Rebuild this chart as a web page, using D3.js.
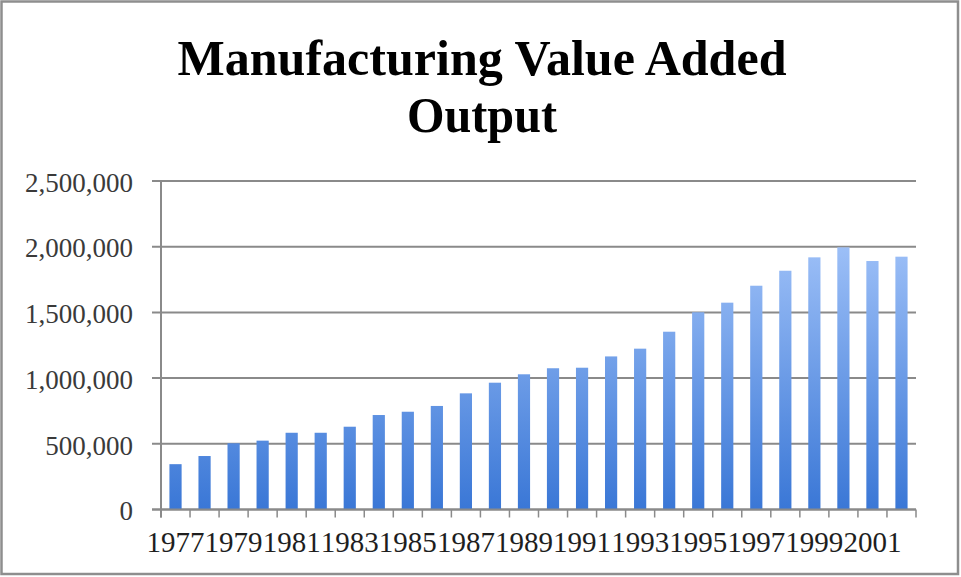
<!DOCTYPE html>
<html>
<head>
<meta charset="utf-8">
<script src="https://cdn.jsdelivr.net/npm/d3@7/dist/d3.min.js"></script>
<style>
  html, body { margin: 0; padding: 0; background: #fff; }
  svg { display: block; }
</style>
</head>
<body>
<svg id="chart" width="961" height="577"></svg>
<script>
// Manufacturing value added output, 1977–2002
const years = [1977, 1978, 1979, 1980, 1981, 1982, 1983, 1984, 1985, 1986, 1987, 1988, 1989,
               1990, 1991, 1992, 1993, 1994, 1995, 1996, 1997, 1998, 1999, 2000, 2001, 2002];
const output = [345000, 407000, 504000, 524000, 584000, 584000, 630000, 719000, 744000, 788000,
                884000, 965000, 1029000, 1075000, 1079000, 1165000, 1224000, 1353000, 1501000,
                1574000, 1703000, 1817000, 1919000, 1995000, 1891000, 1924000];
const yTicks = [0, 500000, 1000000, 1500000, 2000000, 2500000];
const xLabelYears = years.filter((d, i) => i % 2 === 0);
const titleLines = ["Manufacturing Value Added", "Output"];

const svg = d3.select("#chart");
const W = 961, H = 577;
const m = { left: 161, right: 45, top: 181, bottom: 67.5 };
const plotW = W - m.left - m.right;
const plotH = H - m.top - m.bottom;

// Outer frame
svg.append("rect")
  .attr("x", 1.5).attr("y", 1.5)
  .attr("width", W - 4.5).attr("height", H - 4.5)
  .attr("fill", "#fff")
  .attr("stroke", "#8e8e8e")
  .attr("stroke-width", 2.5);

const x = d3.scaleBand().domain(years).range([0, plotW]).paddingInner(0.58).paddingOuter(0.29);
const y = d3.scaleLinear().domain([0, 2500000]).range([plotH, 0]);

// Title
const title = svg.append("text")
  .attr("x", 482)
  .attr("text-anchor", "middle")
  .attr("font-family", "'Liberation Serif', 'DejaVu Serif', serif")
  .attr("font-weight", "bold")
  .attr("font-size", 50)
  .attr("fill", "#000");
title.append("tspan").attr("x", 482).attr("y", 75)
  .attr("textLength", 609).attr("lengthAdjust", "spacingAndGlyphs")
  .text(titleLines[0]);
title.append("tspan").attr("x", 482).attr("y", 132)
  .attr("textLength", 150).attr("lengthAdjust", "spacingAndGlyphs")
  .text(titleLines[1]);

const g = svg.append("g").attr("transform", `translate(${m.left},${m.top})`);

// Gradient across the plot height: light blue at top, deeper blue at baseline
const grad = svg.append("defs").append("linearGradient")
  .attr("id", "barFill")
  .attr("gradientUnits", "userSpaceOnUse")
  .attr("x1", 0).attr("y1", y(2000000))
  .attr("x2", 0).attr("y2", y(0));
grad.append("stop").attr("offset", "0%").attr("stop-color", "#9cbff7");
grad.append("stop").attr("offset", "100%").attr("stop-color", "#3a77d6");

// Horizontal gridlines (extend left of the axis as tick marks)
g.append("g")
  .selectAll("line")
  .data(yTicks)
  .join("line")
  .attr("x1", -9).attr("x2", plotW)
  .attr("y1", d => y(d)).attr("y2", d => y(d))
  .attr("stroke", "#8a8a8a")
  .attr("stroke-width", 2);

// Y axis labels
const yAxis = d3.axisLeft(y)
  .tickValues(yTicks)
  .tickFormat(d3.format(","))
  .tickSize(0)
  .tickPadding(28);
const ya = g.append("g").call(yAxis);
ya.select(".domain").remove();
ya.selectAll("text")
  .attr("font-family", "'Liberation Serif', 'DejaVu Serif', serif")
  .attr("font-size", 27)
  .attr("fill", "#3a3a3a")
  .attr("dy", "0.38em");

// Bars
g.append("g")
  .selectAll("rect")
  .data(years)
  .join("rect")
  .attr("x", d => x(d))
  .attr("width", x.bandwidth())
  .attr("y", (d, i) => y(output[i]))
  .attr("height", (d, i) => plotH - y(output[i]))
  .attr("fill", "url(#barFill)");

// Y axis line
g.append("line")
  .attr("x1", 0).attr("x2", 0)
  .attr("y1", 0).attr("y2", plotH + 8)
  .attr("stroke", "#8a8a8a")
  .attr("stroke-width", 2);

// Baseline
g.append("line")
  .attr("x1", -9).attr("x2", plotW)
  .attr("y1", plotH).attr("y2", plotH)
  .attr("stroke", "#8a8a8a")
  .attr("stroke-width", 2);

// Category boundary ticks
const step = x.step();
const boundaries = years.map(d => x(d) - x.bandwidth() * 0 - (step - x.bandwidth()) / 2).concat([plotW]);
g.append("g")
  .selectAll("line")
  .data(boundaries)
  .join("line")
  .attr("x1", d => d).attr("x2", d => d)
  .attr("y1", plotH).attr("y2", plotH + 8)
  .attr("stroke", "#8a8a8a")
  .attr("stroke-width", 1.5);

// X axis labels, every other year
const xAxis = d3.axisBottom(x)
  .tickValues(xLabelYears)
  .tickSize(0)
  .tickPadding(22);
const xa = g.append("g").attr("transform", `translate(0,${plotH})`).call(xAxis);
xa.select(".domain").remove();
xa.selectAll("text")
  .attr("font-family", "'Liberation Serif', 'DejaVu Serif', serif")
  .attr("font-size", 29)
  .attr("fill", "#1e1e1e")
  .attr("dy", "0.71em");
</script>
</body>
</html>
